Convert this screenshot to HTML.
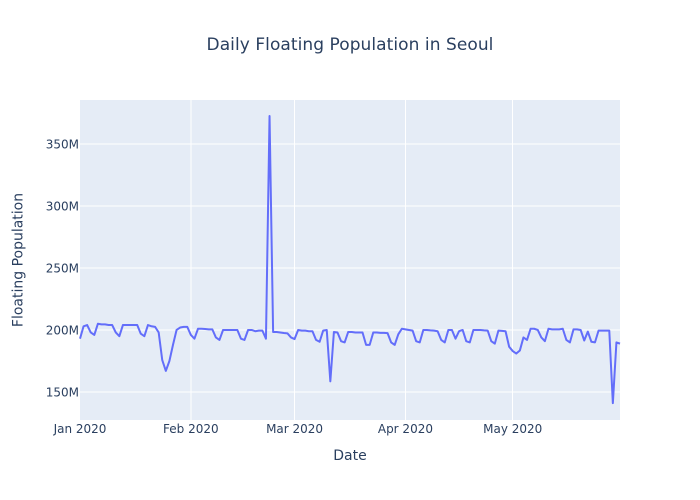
<!DOCTYPE html>
<html>
<head>
<meta charset="utf-8">
<style>
html,body{margin:0;padding:0;background:#fff;}
svg{display:block;}
text{font-family:"DejaVu Sans","Liberation Sans",sans-serif;fill:#2a3f5f;}
</style>
</head>
<body>
<svg id="chart" width="700" height="500" viewBox="0 0 700 500" xmlns="http://www.w3.org/2000/svg">
<rect x="0" y="0" width="700" height="500" fill="#ffffff"/>
<rect x="80" y="100" width="540" height="320" fill="#e5ecf6"/>
<g id="grid" shape-rendering="crispEdges"></g>
<g id="ticks"></g>
<g id="series"></g>
<text x="350" y="50" text-anchor="middle" font-size="17" letter-spacing="0.06">Daily Floating Population in Seoul</text>
<text x="350" y="460" text-anchor="middle" font-size="14">Date</text>
<text x="0" y="0" transform="translate(22.5,260) rotate(-90)" text-anchor="middle" font-size="14">Floating Population</text>
</svg>
<script>
const startDate = "2020-01-01";
const endDate = "2020-05-31";
const populationMillions = [
193,203,204,198,196,205,204.5,204.5,204,204,198,195,204,204,204,204,204,197,195,204,
203,202.5,198,175.7,167,175,188,200,202,202.5,202.5,196,193,201,201,200.8,200.5,200.5,194,192,
200,200,200,200,200,193,192,200,200,199,199.5,199.5,193,372.6,198.4,198.4,198,197.6,197.3,194,
192.7,200,199.5,199.5,199,199,192,190.5,199.5,200,158.6,198.4,198,191,190,198.4,198.4,198,198,198,
188,188,198,198,197.7,197.7,197.5,190,188,196.5,201,200.5,200,199.5,191,190,200,200,199.7,199.5,
199,192,190,200,200,193,199,200,191,190,200,200,200,199.7,199.5,191,189,199.5,199.3,199,
186.5,183,181,183.5,194,192,201,201,200,194,191,201,200.5,200.5,200.5,201,192,190,200.5,200.5,
200,191.5,198.7,190.5,190,199.5,199.5,199.5,199.5,141,190,189
];
const yTickValues = [150,200,250,300,350];
const yTickLabels = ["150M","200M","250M","300M","350M"];
const xTickDates = ["2020-01-01","2020-02-01","2020-03-01","2020-04-01","2020-05-01"];
const xTickLabels = ["Jan 2020","Feb 2020","Mar 2020","Apr 2020","May 2020"];

const NS = "http://www.w3.org/2000/svg";
const plotLeft = 80, plotRight = 620, plotTop = 100, plotBottom = 420;
const yDomainMin = 127.4, yDomainMax = 385.5;
const DAY = 86400000;
const startMs = Date.parse(startDate);
const endMs = Date.parse(endDate);

function xScale(ms) {
  return plotLeft + (ms - startMs) / (endMs - startMs) * (plotRight - plotLeft);
}
function yScale(v) {
  return plotBottom - (v - yDomainMin) / (yDomainMax - yDomainMin) * (plotBottom - plotTop);
}

const gridGroup = document.getElementById("grid");
const tickGroup = document.getElementById("ticks");
const seriesGroup = document.getElementById("series");

yTickValues.forEach(function (v, i) {
  const y = yScale(v);
  const line = document.createElementNS(NS, "line");
  
  
  line.setAttribute("x1", plotLeft);
  line.setAttribute("x2", plotRight);
  line.setAttribute("y1", y);
  line.setAttribute("y2", y);
  line.setAttribute("stroke", "#ffffff");
  line.setAttribute("stroke-width", "1");
  gridGroup.appendChild(line);

  const label = document.createElementNS(NS, "text");
  
  
  label.setAttribute("x", plotLeft - 1);
  label.setAttribute("y", y + 4.4);
  label.setAttribute("text-anchor", "end");
  label.setAttribute("font-size", "12");
  label.textContent = yTickLabels[i];
  tickGroup.appendChild(label);
});

xTickDates.forEach(function (d, i) {
  const x = xScale(Date.parse(d));
  if (i > 0) {
    const line = document.createElementNS(NS, "line");
    
    
    line.setAttribute("x1", x);
    line.setAttribute("x2", x);
    line.setAttribute("y1", plotTop);
    line.setAttribute("y2", plotBottom);
    line.setAttribute("stroke", "#ffffff");
    line.setAttribute("stroke-width", "1");
    gridGroup.appendChild(line);
  }
  const label = document.createElementNS(NS, "text");
  
  
  label.setAttribute("x", x);
  label.setAttribute("y", 433);
  label.setAttribute("text-anchor", "middle");
  label.setAttribute("font-size", "12");
  label.textContent = xTickLabels[i];
  tickGroup.appendChild(label);
});

const points = populationMillions.map(function (v, i) {
  return xScale(startMs + i * DAY).toFixed(2) + "," + yScale(v).toFixed(2);
}).join(" ");
const seriesLine = document.createElementNS(NS, "polyline");


seriesLine.setAttribute("points", points);
seriesLine.setAttribute("fill", "none");
seriesLine.setAttribute("stroke", "#636efa");
seriesLine.setAttribute("stroke-width", "2");
seriesLine.setAttribute("stroke-linejoin", "round");
seriesGroup.appendChild(seriesLine);
</script>
</body>
</html>
